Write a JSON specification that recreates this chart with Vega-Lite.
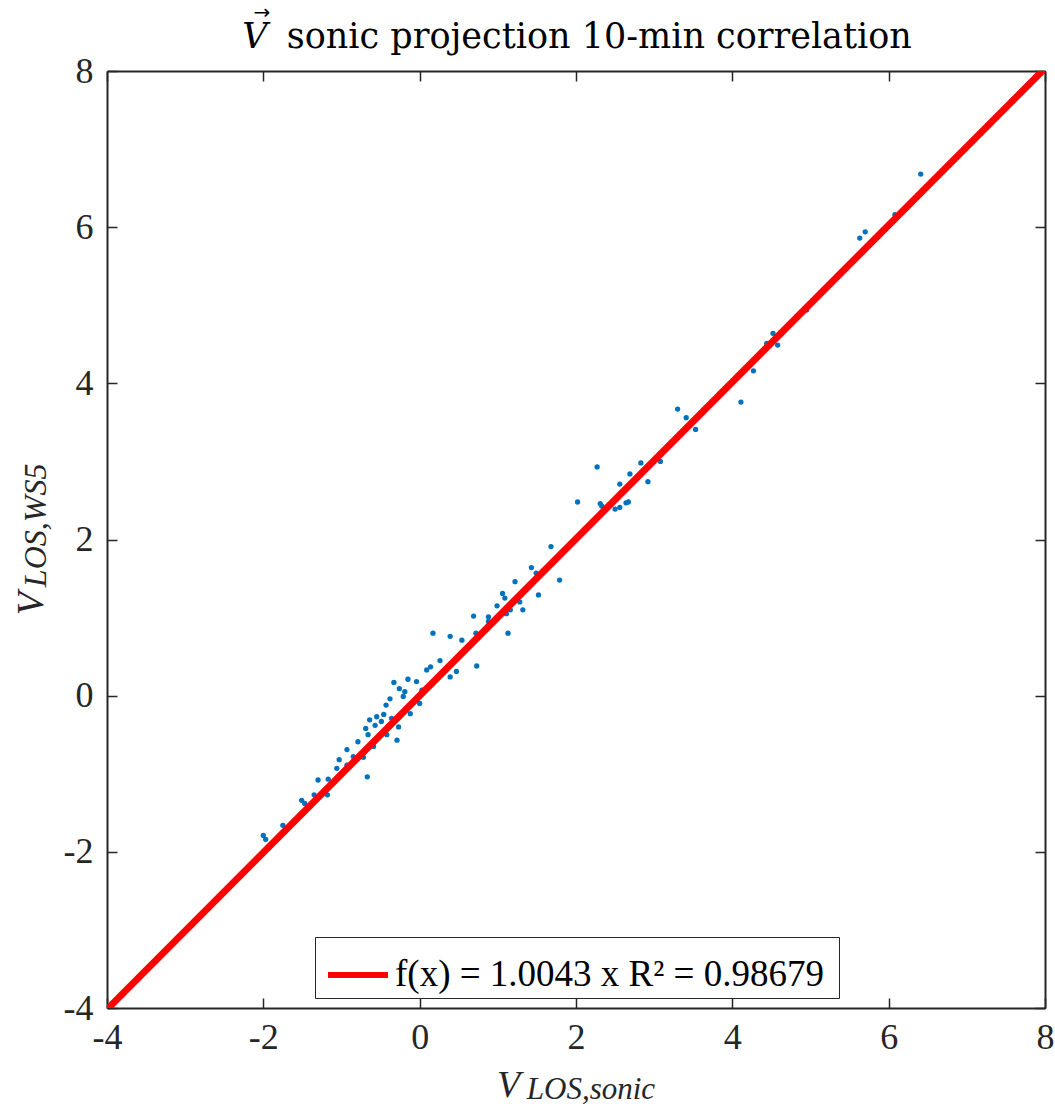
{
  "$schema": "https://vega.github.io/schema/vega-lite/v6.json",
  "autosize": {"type": "none"},
  "padding": {"left": 107, "top": 71, "right": 10, "bottom": 104},
  "width": 938,
  "height": 937,
  "background": "white",
  "config": {
    "view": {"stroke": null},
    "axis": {
      "grid": false,
      "domainColor": "#262626",
      "domainWidth": 2,
      "tickColor": "#262626",
      "tickWidth": 1.5,
      "tickSize": -10,
      "labelFont": "Liberation Serif",
      "labelFontSize": 36,
      "labelColor": "#262626",
      "labelFlush": false,
      "title": null
    }
  },
  "datasets": {
    "pts": [
      {"x": -2.00, "y": -1.79}, {"x": -1.97, "y": -1.84}, {"x": -1.75, "y": -1.66},
      {"x": -1.51, "y": -1.34}, {"x": -1.47, "y": -1.38}, {"x": -1.35, "y": -1.27},
      {"x": -1.30, "y": -1.08}, {"x": -1.18, "y": -1.27}, {"x": -1.17, "y": -1.07},
      {"x": -1.06, "y": -0.93}, {"x": -1.03, "y": -0.82}, {"x": -0.93, "y": -0.69},
      {"x": -0.93, "y": -0.89}, {"x": -0.85, "y": -0.78}, {"x": -0.79, "y": -0.59},
      {"x": -0.72, "y": -0.79}, {"x": -0.67, "y": -1.04}, {"x": -0.69, "y": -0.42},
      {"x": -0.64, "y": -0.31}, {"x": -0.66, "y": -0.50}, {"x": -0.59, "y": -0.65},
      {"x": -0.55, "y": -0.27}, {"x": -0.57, "y": -0.38}, {"x": -0.49, "y": -0.33},
      {"x": -0.46, "y": -0.24}, {"x": -0.42, "y": -0.50}, {"x": -0.38, "y": -0.38},
      {"x": -0.36, "y": -0.29}, {"x": -0.29, "y": -0.57}, {"x": -0.27, "y": -0.40},
      {"x": -0.43, "y": -0.12}, {"x": -0.38, "y": -0.04}, {"x": -0.33, "y": 0.17},
      {"x": -0.26, "y": 0.09}, {"x": -0.21, "y": -0.01}, {"x": -0.19, "y": 0.05},
      {"x": -0.15, "y": 0.21}, {"x": -0.12, "y": -0.23}, {"x": -0.04, "y": 0.18},
      {"x": 0.00, "y": -0.10}, {"x": 0.03, "y": 0.07}, {"x": 0.09, "y": 0.33},
      {"x": 0.14, "y": 0.37}, {"x": 0.26, "y": 0.45}, {"x": 0.17, "y": 0.80},
      {"x": 0.39, "y": 0.24}, {"x": 0.39, "y": 0.76}, {"x": 0.47, "y": 0.31},
      {"x": 0.54, "y": 0.71}, {"x": 0.69, "y": 1.02}, {"x": 0.72, "y": 0.80},
      {"x": 0.73, "y": 0.38}, {"x": 0.88, "y": 1.01}, {"x": 0.88, "y": 0.95},
      {"x": 0.99, "y": 1.15}, {"x": 1.06, "y": 1.31}, {"x": 1.09, "y": 1.25},
      {"x": 1.11, "y": 1.05}, {"x": 1.13, "y": 0.80}, {"x": 1.16, "y": 1.10},
      {"x": 1.22, "y": 1.46}, {"x": 1.28, "y": 1.20}, {"x": 1.32, "y": 1.10},
      {"x": 1.43, "y": 1.64}, {"x": 1.52, "y": 1.29}, {"x": 1.49, "y": 1.57},
      {"x": 1.68, "y": 1.91}, {"x": 1.79, "y": 1.48}, {"x": 2.02, "y": 2.48},
      {"x": 2.27, "y": 2.93}, {"x": 2.31, "y": 2.46}, {"x": 2.33, "y": 2.43},
      {"x": 2.50, "y": 2.39}, {"x": 2.56, "y": 2.41}, {"x": 2.56, "y": 2.71},
      {"x": 2.64, "y": 2.47}, {"x": 2.67, "y": 2.48}, {"x": 2.69, "y": 2.84},
      {"x": 2.83, "y": 2.98}, {"x": 2.92, "y": 2.74}, {"x": 3.08, "y": 3.00},
      {"x": 3.30, "y": 3.67}, {"x": 3.41, "y": 3.56}, {"x": 3.53, "y": 3.41},
      {"x": 4.11, "y": 3.76}, {"x": 4.27, "y": 4.16}, {"x": 4.44, "y": 4.51},
      {"x": 4.52, "y": 4.64}, {"x": 4.58, "y": 4.49}, {"x": 4.95, "y": 4.94},
      {"x": 5.63, "y": 5.86}, {"x": 5.70, "y": 5.94}, {"x": 6.08, "y": 6.16},
      {"x": 6.41, "y": 6.68}
    ],
    "fit": [
      {"x": -4, "y": -4.0172, "series": "f(x) = 1.0043 x  R² = 0.98679"},
      {"x": 8, "y": 8.0344, "series": "f(x) = 1.0043 x  R² = 0.98679"}
    ]
  },
  "layer": [
    {
      "data": {"name": "pts"},
      "mark": {"type": "circle", "size": 28, "opacity": 1, "color": "#0072BD"},
      "encoding": {
        "x": {"field": "x", "type": "quantitative",
              "scale": {"domain": [-4, 8], "nice": false, "zero": false},
              "axis": {"orient": "bottom", "values": [-4, -2, 0, 2, 4, 6, 8], "labelPadding": 22,
                       "labelFont": "Liberation Serif", "labelFontSize": 36, "labelFlush": false,
                       "labelExpr": "'' + datum.value"}},
        "y": {"field": "y", "type": "quantitative",
              "scale": {"domain": [-4, 8], "nice": false, "zero": false},
              "axis": {"orient": "left", "values": [-4, -2, 0, 2, 4, 6, 8], "labelPadding": 24,
                       "labelFont": "Liberation Serif", "labelFontSize": 36, "labelFlush": false,
                       "labelExpr": "'' + datum.value"}}
      }
    },
    {
      "data": {"name": "fit"},
      "mark": {"type": "line", "strokeWidth": 7, "clip": true},
      "encoding": {
        "x": {"field": "x", "type": "quantitative",
              "scale": {"domain": [-4, 8], "nice": false, "zero": false},
              "axis": {"orient": "top", "values": [-4, -2, 0, 2, 4, 6, 8], "labels": false}},
        "y": {"field": "y", "type": "quantitative",
              "scale": {"domain": [-4, 8], "nice": false, "zero": false},
              "axis": {"orient": "right", "values": [-4, -2, 0, 2, 4, 6, 8], "labels": false}},
        "color": {"field": "series", "type": "nominal",
                  "scale": {"range": ["#FF0000"]},
                  "legend": {
                    "title": null, "orient": "none", "legendX": 208, "legendY": 866,
                    "symbolType": "stroke", "symbolSize": 3600, "symbolStrokeWidth": 6,
                    "symbolOffset": 5, "labelOffset": 4,
                    "labelFont": "Liberation Serif", "labelFontSize": 37, "labelColor": "#000000",
                    "labelLimit": 700, "strokeColor": "#262626", "padding": 5, "fillColor": "white"
                  }}
      }
    },
    {
      "data": {"values": [{"t": "V"}]},
      "mark": {"type": "text", "font": "DejaVu Serif", "fontStyle": "italic", "fontSize": 35, "align": "left", "baseline": "alphabetic", "color": "#000000"},
      "encoding": {
        "text": {"field": "t"},
        "x": {"datum": -2.27, "type": "quantitative", "scale": {"domain": [-4, 8], "nice": false, "zero": false}, "axis": null},
        "y": {"datum": 8.295, "type": "quantitative", "scale": {"domain": [-4, 8], "nice": false, "zero": false}, "axis": null}
      }
    },
    {
      "data": {"values": [{"t": "sonic projection 10-min correlation"}]},
      "mark": {"type": "text", "font": "DejaVu Serif", "fontSize": 35, "align": "left", "baseline": "alphabetic", "color": "#000000"},
      "encoding": {
        "text": {"field": "t"},
        "x": {"datum": -1.70, "type": "quantitative", "scale": {"domain": [-4, 8], "nice": false, "zero": false}, "axis": null},
        "y": {"datum": 8.295, "type": "quantitative", "scale": {"domain": [-4, 8], "nice": false, "zero": false}, "axis": null}
      }
    },
    {
      "data": {"values": [{"t": "→"}]},
      "mark": {"type": "text", "font": "DejaVu Sans", "fontSize": 20, "align": "center", "baseline": "alphabetic", "color": "#000000"},
      "encoding": {
        "text": {"field": "t"},
        "x": {"datum": -2.02, "type": "quantitative", "scale": {"domain": [-4, 8], "nice": false, "zero": false}, "axis": null},
        "y": {"datum": 8.66, "type": "quantitative", "scale": {"domain": [-4, 8], "nice": false, "zero": false}, "axis": null}
      }
    },
    {
      "data": {"values": [{"t": "V"}]},
      "mark": {"type": "text", "font": "Liberation Serif", "fontStyle": "italic", "fontSize": 38, "align": "left", "baseline": "alphabetic", "color": "#262626"},
      "encoding": {
        "text": {"field": "t"},
        "x": {"datum": 0.99, "type": "quantitative", "scale": {"domain": [-4, 8], "nice": false, "zero": false}, "axis": null},
        "y": {"datum": -5.14, "type": "quantitative", "scale": {"domain": [-4, 8], "nice": false, "zero": false}, "axis": null}
      }
    },
    {
      "data": {"values": [{"t": "LOS,sonic"}]},
      "mark": {"type": "text", "font": "Liberation Serif", "fontStyle": "italic", "fontSize": 31, "align": "left", "baseline": "alphabetic", "color": "#262626"},
      "encoding": {
        "text": {"field": "t"},
        "x": {"datum": 1.37, "type": "quantitative", "scale": {"domain": [-4, 8], "nice": false, "zero": false}, "axis": null},
        "y": {"datum": -5.17, "type": "quantitative", "scale": {"domain": [-4, 8], "nice": false, "zero": false}, "axis": null}
      }
    },
    {
      "data": {"values": [{"t": "V"}]},
      "mark": {"type": "text", "font": "Liberation Serif", "fontStyle": "italic", "fontSize": 38, "align": "left", "baseline": "alphabetic", "angle": 270, "color": "#262626"},
      "encoding": {
        "text": {"field": "t"},
        "x": {"datum": -4.82, "type": "quantitative", "scale": {"domain": [-4, 8], "nice": false, "zero": false}, "axis": null},
        "y": {"datum": 1.03, "type": "quantitative", "scale": {"domain": [-4, 8], "nice": false, "zero": false}, "axis": null}
      }
    },
    {
      "data": {"values": [{"t": "LOS,WS5"}]},
      "mark": {"type": "text", "font": "Liberation Serif", "fontStyle": "italic", "fontSize": 32, "align": "left", "baseline": "alphabetic", "angle": 270, "color": "#262626"},
      "encoding": {
        "text": {"field": "t"},
        "x": {"datum": -4.78, "type": "quantitative", "scale": {"domain": [-4, 8], "nice": false, "zero": false}, "axis": null},
        "y": {"datum": 1.39, "type": "quantitative", "scale": {"domain": [-4, 8], "nice": false, "zero": false}, "axis": null}
      }
    }
  ],
  "resolve": {"axis": {"x": "independent", "y": "independent"}}
}
